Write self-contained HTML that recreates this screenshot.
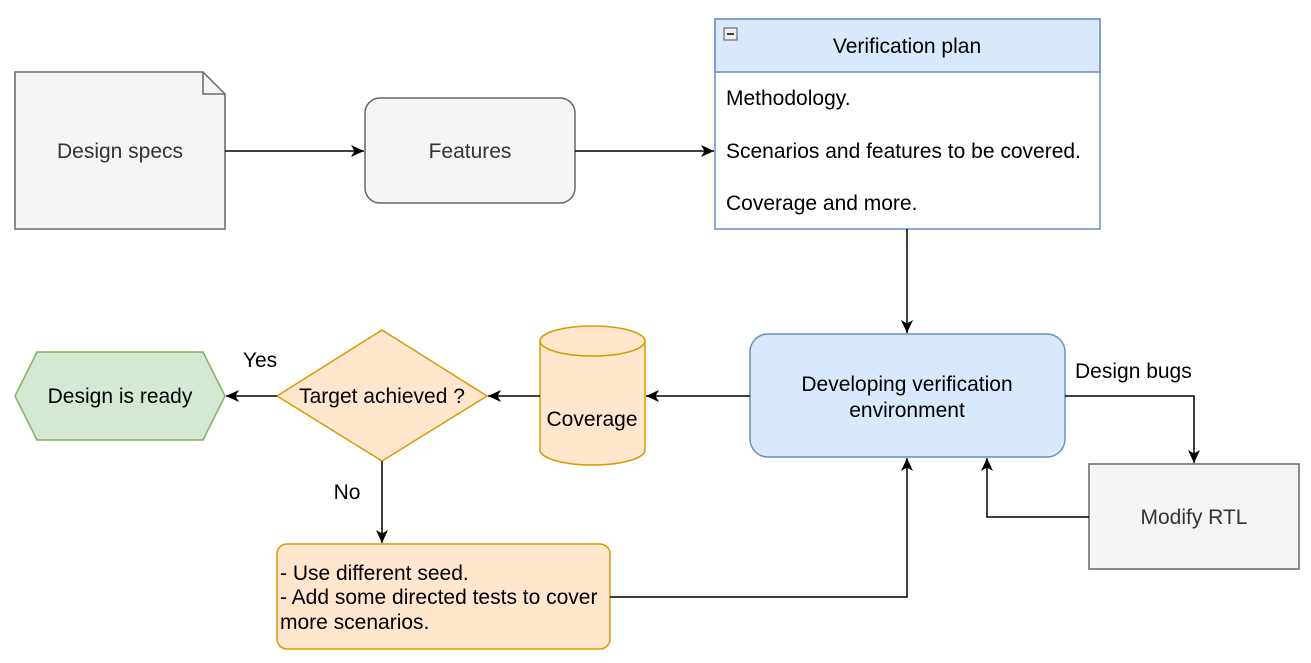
<!DOCTYPE html>
<html><head><meta charset="utf-8"><style>
html,body{margin:0;padding:0;background:#fff;}
svg{display:block;font-family:"Liberation Sans",Arial,sans-serif;font-size:21px;}
</style></head><body>
<svg width="1311" height="663" viewBox="0 0 1311 663" xmlns="http://www.w3.org/2000/svg">
<defs>
<marker id="a" markerWidth="14" markerHeight="14" refX="13" refY="6" orient="auto" markerUnits="userSpaceOnUse">
<path d="M0,0 L13,6 L0,12 L3.5,6 Z" fill="#000"/>
</marker>
</defs>
<path d="M15,72 H203 L225,94 V229 H15 Z" fill="#f5f5f5" stroke="#666" stroke-width="1.5"/>
<path d="M203,72 V94 H225" fill="none" stroke="#666" stroke-width="1.5"/>
<text x="120" y="158" text-anchor="middle" fill="#333">Design specs</text>
<line x1="225" y1="151" x2="364" y2="151" stroke="#000" stroke-width="1.5" marker-end="url(#a)"/>
<rect x="365" y="98" width="210" height="105" rx="15" fill="#f5f5f5" stroke="#666" stroke-width="1.5"/>
<text x="470" y="158" text-anchor="middle" fill="#333">Features</text>
<line x1="575" y1="151" x2="714" y2="151" stroke="#000" stroke-width="1.5" marker-end="url(#a)"/>
<rect x="715" y="19" width="385" height="210" fill="#fff" stroke="#6c8ebf" stroke-width="1.5"/>
<rect x="715" y="19" width="385" height="53" fill="#dae8fc" stroke="#6c8ebf" stroke-width="1.5"/>
<rect x="724" y="28" width="13" height="12" fill="#eee" stroke="#555" stroke-width="1"/>
<line x1="727" y1="34" x2="734" y2="34" stroke="#000" stroke-width="1.5"/>
<text x="907" y="53" text-anchor="middle" fill="#000">Verification plan</text>
<text x="726" y="105" fill="#000">Methodology.</text>
<text x="726" y="158" fill="#000">Scenarios and features to be covered.</text>
<text x="726" y="210" fill="#000">Coverage and more.</text>
<line x1="907" y1="229" x2="907" y2="333" stroke="#000" stroke-width="1.5" marker-end="url(#a)"/>
<rect x="750" y="334" width="315" height="123" rx="18" fill="#dae8fc" stroke="#6c8ebf" stroke-width="1.5"/>
<text x="907" y="391" text-anchor="middle" fill="#000">Developing verification</text>
<text x="907" y="417" text-anchor="middle" fill="#000">environment</text>
<line x1="750" y1="396" x2="646" y2="396" stroke="#000" stroke-width="1.5" marker-end="url(#a)"/>
<path d="M540,341 V450 A52.5,15 0 0 0 645,450 V341" fill="#ffe6cc" stroke="#d79b00" stroke-width="1.5"/>
<ellipse cx="592.5" cy="341" rx="52.5" ry="15" fill="#ffe6cc" stroke="#d79b00" stroke-width="1.5"/>
<text x="592" y="426" text-anchor="middle" fill="#000">Coverage</text>
<line x1="540" y1="396" x2="488" y2="396" stroke="#000" stroke-width="1.5" marker-end="url(#a)"/>
<polygon points="382,330 487,396 382,461 277,396" fill="#ffe6cc" stroke="#d79b00" stroke-width="1.5"/>
<text x="382" y="403" text-anchor="middle" fill="#000">Target achieved ?</text>
<line x1="277" y1="396" x2="226" y2="396" stroke="#000" stroke-width="1.5" marker-end="url(#a)"/>
<text x="260" y="367" text-anchor="middle" fill="#000">Yes</text>
<polygon points="15,396 37,352 203,352 225,396 203,440 37,440" fill="#d5e8d4" stroke="#82b366" stroke-width="1.5"/>
<text x="120" y="403" text-anchor="middle" fill="#000">Design is ready</text>
<line x1="382" y1="461" x2="382" y2="543" stroke="#000" stroke-width="1.5" marker-end="url(#a)"/>
<text x="347" y="499" text-anchor="middle" fill="#000">No</text>
<rect x="277" y="544" width="333" height="105" rx="10" fill="#ffe6cc" stroke="#d79b00" stroke-width="1.5"/>
<text x="280" y="580" fill="#000">- Use different seed.</text>
<text x="280" y="604" fill="#000">- Add some directed tests to cover</text>
<text x="280" y="629" fill="#000">more scenarios.</text>
<polyline points="610,597 907,597 907,458" fill="none" stroke="#000" stroke-width="1.5" marker-end="url(#a)"/>
<polyline points="1065,396 1194,396 1194,463" fill="none" stroke="#000" stroke-width="1.5" marker-end="url(#a)"/>
<text x="1075" y="378" fill="#000">Design bugs</text>
<rect x="1089" y="464" width="210" height="105" fill="#f5f5f5" stroke="#666" stroke-width="1.5"/>
<text x="1194" y="524" text-anchor="middle" fill="#333">Modify RTL</text>
<polyline points="1089,517 987,517 987,458" fill="none" stroke="#000" stroke-width="1.5" marker-end="url(#a)"/>
</svg>
</body></html>
